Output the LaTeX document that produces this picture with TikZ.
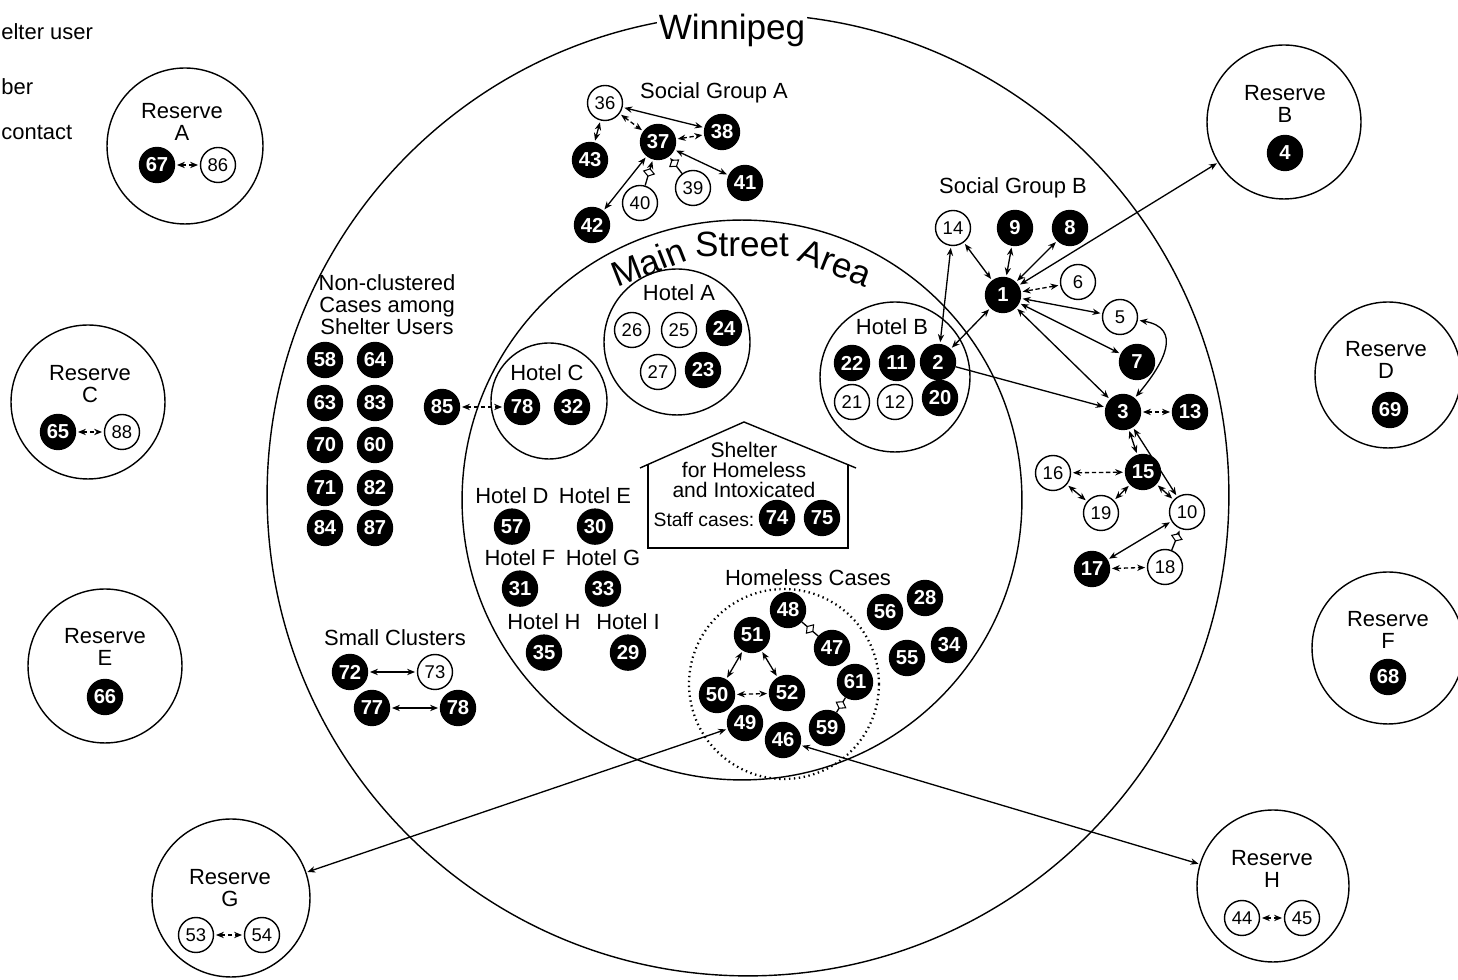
\documentclass[tikz,border=0pt]{standalone}
\usepackage{fontspec}
\setmainfont{Liberation Sans}
\usepackage{tikz}
\usetikzlibrary{
    positioning,
    arrows.meta,
    shapes.geometric
}
\tikzset{
    usercase/.style={
        circle, draw=black, fill=black, text=white,
        line width=0.8pt, minimum size=0.7cm, inner sep=0pt,
        font=\fontsize{11.5}{12}\selectfont\bfseries
    },
    othercase/.style={
        circle, draw=black, fill=white,
        line width=0.8pt, minimum size=0.7cm, inner sep=0pt,
        font=\fontsize{10.5}{12}\selectfont
    },
    zone/.style={
        circle, draw, line width=0.8pt, inner sep=0pt, outer sep=0pt,
        minimum size=#1
    },
    zonetitle/.style={
        font=\fontsize{12.5}{12.5}\selectfont, align=center, inner sep=0pt
    },
    citytitle/.style={
        font=\fontsize{20}{24}\selectfont, inner sep=1pt, fill=white
    },
    areaword/.style={
        font=\fontsize{20}{24}\selectfont, inner sep=0pt, anchor=base
    }
}

\begin{document}
\begin{tikzpicture}[
    x=0.02cm, y=0.02cm,
    >={Stealth[length=4.5pt,width=3.6pt]},
    link/.style={<->, line width=0.75pt, shorten <=1pt, shorten >=1pt},
    dashlink/.style={link, dash pattern=on 2.5pt off 1.5pt},
    oneway/.style={->, line width=0.75pt, shorten >=1pt},
    tie/.style={line width=0.75pt},
    tiemark/.style={diamond, draw, fill=white, line width=0.6pt, inner sep=0pt,
        minimum width=4.5pt, minimum height=6.5pt, sloped}
]
    \useasboundingbox (0,0) rectangle (1458,980);

    % --- LEGEND (cut off) ---
    \node[zonetitle, anchor=west] (leg1) at (1,948) {elter user};
    \node[zonetitle, anchor=west] (leg2) at (1,893) {ber};
    \node[zonetitle, anchor=west] (leg3) at (1,847) {contact};

    % --- CITY AND MAIN STREET ---
    \node[zone=19.24cm] (city) at (748,485) {};
    \node[citytitle] (citylabel) at (732,950) {Winnipeg};
    \node[zone=11.2cm] (mainst) at (742,480) {};
    \path (742,480) ++(111.5:243) node[areaword, rotate=21.5] (msmain) {Main};
    \path (742,480) ++(90:243) node[areaword] (msstreet) {Street};
    \path (742,480) ++(68.5:243) node[areaword, rotate=-21.5] (msarea) {Area};

    % --- RESERVES ---
    \node[zone=3.12cm] (resA) at (185,834) {};
    \node[zonetitle] at (182,858) {Reserve\\A};
    \node[usercase] (n67) at (157,815) {67};
    \node[othercase] (n86) at (218,815) {86};

    \node[zone=3.08cm] (resB) at (1284,858) {};
    \node[zonetitle] at (1285,876) {Reserve\\B};
    \node[usercase] (n4) at (1285,827) {4};

    \node[zone=3.08cm] (resC) at (88,578) {};
    \node[zonetitle] at (90,596) {Reserve\\C};
    \node[usercase] (n65) at (58,548) {65};
    \node[othercase] (n88) at (122,548) {88};

    \node[zone=2.92cm] (resD) at (1388,605) {};
    \node[zonetitle] at (1386,620) {Reserve\\D};
    \node[usercase] (n69) at (1390,570) {69};

    \node[zone=3.08cm] (resE) at (105,314) {};
    \node[zonetitle] at (105,333) {Reserve\\E};
    \node[usercase] (n66) at (105,283) {66};

    \node[zone=3.04cm] (resF) at (1388,332) {};
    \node[zonetitle] at (1388,350) {Reserve\\F};
    \node[usercase] (n68) at (1388,303) {68};

    \node[zone=3.16cm] (resG) at (231,82) {};
    \node[zonetitle] at (230,92) {Reserve\\G};
    \node[othercase] (n53) at (196,45) {53};
    \node[othercase] (n54) at (262,45) {54};

    \node[zone=3.04cm] (resH) at (1273,94) {};
    \node[zonetitle] at (1272,111) {Reserve\\H};
    \node[othercase] (n44) at (1242,62) {44};
    \node[othercase] (n45) at (1302,62) {45};

    % --- SOCIAL GROUP A ---
    \node[zonetitle] (sga) at (714,887) {Social Group A};
    \node[othercase] (n36) at (605,877) {36};
    \node[usercase] (n37) at (658,838) {37};
    \node[usercase] (n38) at (722,848) {38};
    \node[usercase] (n43) at (590,820) {43};
    \node[usercase] (n42) at (592,755) {42};
    \node[othercase] (n40) at (640,777) {40};
    \node[othercase] (n39) at (693,792) {39};
    \node[usercase] (n41) at (745,797) {41};

    % --- HOTELS A, B, C ---
    \node[zone=2.92cm] (hotA) at (677,638) {};
    \node[zonetitle] at (679,687) {Hotel A};
    \node[othercase] (n26) at (632,650) {26};
    \node[othercase] (n25) at (679,650) {25};
    \node[usercase] (n24) at (724,652) {24};
    \node[othercase] (n27) at (658,608) {27};
    \node[usercase] (n23) at (703,610) {23};

    \node[zone=3.0cm] (hotB) at (895,603) {};
    \node[zonetitle] at (892,653) {Hotel B};
    \node[usercase] (n22) at (852,617) {22};
    \node[usercase] (n11) at (897,617) {11};
    \node[usercase] (n2) at (938,618) {2};
    \node[othercase] (n21) at (852,578) {21};
    \node[othercase] (n12) at (895,578) {12};
    \node[usercase] (n20) at (940,582) {20};

    \node[zone=2.32cm] (hotC) at (549,579) {};
    \node[zonetitle] at (547,607) {Hotel C};
    \node[usercase] (n78) at (522,573) {78};
    \node[usercase] (n32) at (572,573) {32};
    \node[usercase] (n85) at (442,573) {85};

    % --- SOCIAL GROUP B ---
    \node[zonetitle] (sgb) at (1013,792) {Social Group B};
    \node[othercase] (n14) at (953,752) {14};
    \node[usercase] (n9) at (1015,752) {9};
    \node[usercase] (n8) at (1070,752) {8};
    \node[usercase] (n1) at (1003,685) {1};
    \node[othercase] (n6) at (1078,698) {6};
    \node[othercase] (n5) at (1120,663) {5};
    \node[usercase] (n7) at (1137,618) {7};
    \node[usercase] (n3) at (1123,568) {3};
    \node[usercase] (n13) at (1190,568) {13};
    \node[usercase] (n15) at (1143,508) {15};
    \node[othercase] (n16) at (1053,507) {16};
    \node[othercase] (n19) at (1101,467) {19};
    \node[othercase] (n10) at (1187,468) {10};
    \node[usercase] (n17) at (1092,411) {17};
    \node[othercase] (n18) at (1165,413) {18};

    % --- NON-CLUSTERED CASES ---
    \node[zonetitle] (noncl) at (387,675) {Non-clustered\\Cases among\\Shelter Users};
    \foreach \num/\px/\py in {58/325/620, 64/375/620, 63/325/577, 83/375/577,
        70/325/535, 60/375/535, 71/325/492, 82/375/492, 84/325/452, 87/375/452}
        \node[usercase] (n\num) at (\px,\py) {\num};

    % --- HOTELS D TO I ---
    \foreach \hname/\num/\px/\py in {D/57/512/484, E/30/595/484, F/31/520/422,
        G/33/603/422, H/35/544/358, I/29/628/358} {
        \node[zonetitle] (hot\hname) at (\px,\py) {Hotel \hname};
        \node[usercase, below=0.08cm of hot\hname] (n\num) {\num};
    }

    % --- SHELTER ---
    \draw[line width=0.8pt] (640,512) -- (744,558) -- (856,512);
    \draw[line width=0.8pt] (648,515) -- (648,432) -- (848,432) -- (848,515);
    \node[zonetitle, font=\fontsize{12}{11.5}\selectfont] (shelter) at (744,510)
        {Shelter\\for Homeless\\and Intoxicated};
    \node[zonetitle, font=\fontsize{11}{12}\selectfont] (staff) at (704,460) {Staff cases:};
    \node[usercase] (n74) at (777,462) {74};
    \node[usercase] (n75) at (822,462) {75};

    % --- HOMELESS CASES ---
    \node[zonetitle] (homeless) at (808,402) {Homeless Cases};
    \node[zone=3.8cm, dotted, line width=1.3pt] (homezone) at (784,296) {};
    \node[usercase] (n48) at (788,370) {48};
    \node[usercase] (n51) at (752,345) {51};
    \node[usercase] (n47) at (832,332) {47};
    \node[usercase] (n61) at (855,298) {61};
    \node[usercase] (n50) at (717,285) {50};
    \node[usercase] (n52) at (787,287) {52};
    \node[usercase] (n49) at (745,257) {49};
    \node[usercase] (n59) at (827,252) {59};
    \node[usercase] (n46) at (783,240) {46};
    \node[usercase] (n56) at (885,368) {56};
    \node[usercase] (n28) at (925,382) {28};
    \node[usercase] (n55) at (907,322) {55};
    \node[usercase] (n34) at (949,335) {34};

    % --- SMALL CLUSTERS ---
    \node[zonetitle] (small) at (395,342) {Small Clusters};
    \node[usercase] (n72) at (350,308) {72};
    \node[othercase] (n73) at (435,308) {73};
    \node[usercase] (n77) at (372,272) {77};
    \node[usercase] (n78s) at (458,272) {78};

    % --- CONTACTS ---
    \draw[dashlink] (n67) -- (n86);
    \draw[dashlink] (n65) -- (n88);
    \draw[dashlink] (n53) -- (n54);
    \draw[dashlink] (n44) -- (n45);

    \draw[link] (n36) -- (n38);
    \draw[dashlink] (n36) -- (n37);
    \draw[dashlink] (n37) -- (n38);
    \draw[link] (n36) -- (n43);
    \draw[link] (n37) -- (n42);
    \draw[oneway] (n40) -- node[tiemark] {} (n37);
    \draw[oneway] (n39) -- node[tiemark, pos=0.6] {} (n37);
    \draw[link] (n37) -- (n41);

    \draw[link] (n14) -- (n1);
    \draw[link] (n9) -- (n1);
    \draw[link] (n8) -- (n1);
    \draw[dashlink] (n6) -- (n1);
    \draw[link] (n5) -- (n1);
    \draw[link] (n7) -- (n1);
    \draw[link] (n3) -- (n1);
    \draw[link] (n2) -- (n1);
    \draw[link] (n14) -- (n2);
    \draw[oneway] (n2) -- (n3);
    \draw[link] (n5) to[out=-10, in=50, looseness=1.5] (n3);
    \draw[dashlink] (n3) -- (n13);
    \draw[link] (n3) -- (n15);
    \draw[link] (n3) -- (n10);
    \draw[dashlink] (n16) -- (n15);
    \draw[link] (n15) -- (n19);
    \draw[link] (n16) -- (n19);
    \draw[link] (n15) -- (n10);
    \draw[link] (n10) -- (n17);
    \draw[oneway] (n18) -- node[tiemark, pos=0.6] {} (n10);
    \draw[dashlink] (n17) -- (n18);
    \draw[link] (n1) -- (resB);

    \draw[dashlink] (n85) -- (n78);

    \draw[link] (n51) -- (n50);
    \draw[link] (n51) -- (n52);
    \draw[dashlink] (n50) -- (n52);
    \draw[tie] (n48) -- node[tiemark] {} (n47);
    \draw[tie] (n61) -- node[tiemark] {} (n59);
    \draw[link] (n49) -- (resG);
    \draw[link] (n46) -- (resH);

    \draw[link] (n72) -- (n73);
    \draw[link] (n77) -- (n78s);

\end{tikzpicture}
\end{document}
